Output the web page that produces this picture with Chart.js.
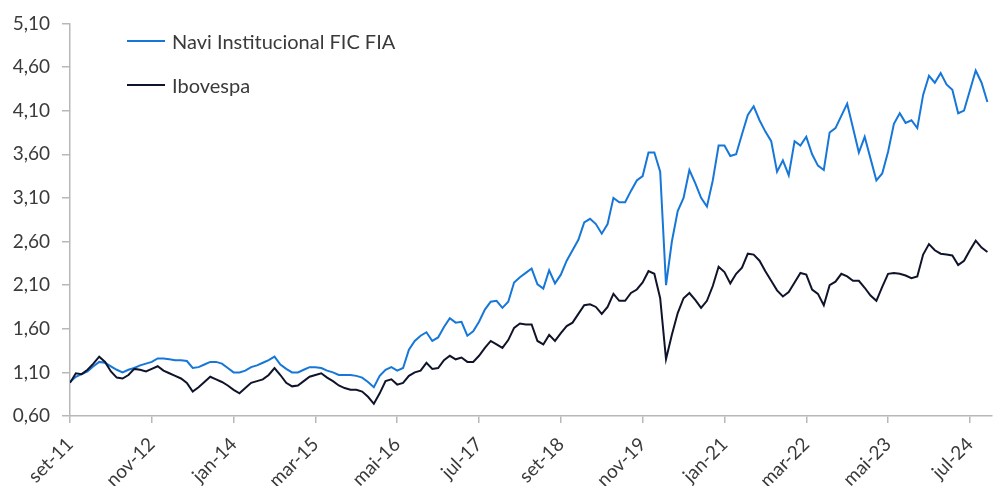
<!DOCTYPE html>
<html>
<head>
<meta charset="utf-8">
<script src="https://cdn.jsdelivr.net/npm/chart.js@4.4.1/dist/chart.umd.min.js"></script>
<style>
  html, body { margin: 0; padding: 0; background: #fff; }
  #wrap { position: relative; width: 996px; height: 486px; }
  .leg { position: absolute; left: 127px; display: flex; align-items: center;
         font-family: Lato, "Noto Sans", sans-serif; font-size: 20px; color: #3a3a3a; }
  .leg span.line { display: inline-block; width: 38px; height: 2px; margin-right: 7px; }
</style>
</head>
<body>
<div id="wrap">
  <canvas id="c" width="996" height="486"></canvas>
</div>
<script>
// rótulos do eixo x (a cada 14 meses, começando em set-11)
const tickLabels = ["set-11", "nov-12", "jan-14", "mar-15", "mai-16", "jul-17",
  "set-18", "nov-19", "jan-21", "mar-22", "mai-23", "jul-24"];
const monthStep = 14;

// valores mensais desde set-11
const navi = [
  0.99, 1.05, 1.08, 1.11, 1.17, 1.22, 1.21, 1.17, 1.13, 1.10,
  1.13, 1.15, 1.18, 1.20, 1.22, 1.26, 1.26, 1.25, 1.24, 1.24,
  1.23, 1.15, 1.16, 1.19, 1.22, 1.22, 1.20, 1.15, 1.10, 1.10,
  1.12, 1.16, 1.18, 1.21, 1.24, 1.28, 1.19, 1.14, 1.10, 1.10,
  1.13, 1.16, 1.16, 1.15, 1.12, 1.10, 1.07, 1.07, 1.07, 1.06,
  1.04, 0.99, 0.93, 1.06, 1.13, 1.16, 1.12, 1.15, 1.36, 1.46,
  1.52, 1.56, 1.46, 1.50, 1.62, 1.72, 1.67, 1.68, 1.52, 1.57,
  1.68, 1.82, 1.91, 1.92, 1.84, 1.91, 2.13, 2.19, 2.24, 2.29,
  2.11, 2.06, 2.27, 2.12, 2.22, 2.38, 2.50, 2.62, 2.82, 2.86,
  2.80, 2.69, 2.80, 3.10, 3.05, 3.05, 3.18, 3.30, 3.35, 3.62,
  3.62, 3.40, 2.10, 2.60, 2.95, 3.10, 3.42, 3.27, 3.10, 3.00,
  3.30, 3.70, 3.70, 3.58, 3.60, 3.83, 4.05, 4.15, 3.99, 3.86,
  3.75, 3.40, 3.53, 3.36, 3.75, 3.70, 3.80, 3.60, 3.47, 3.42,
  3.85, 3.90, 4.04, 4.18, 3.90, 3.62, 3.80, 3.55, 3.30, 3.38,
  3.63, 3.95, 4.07, 3.96, 3.99, 3.90, 4.28, 4.50, 4.42, 4.53,
  4.40, 4.34, 4.07, 4.10, 4.33, 4.56, 4.42, 4.20
];
const ibov = [
  0.98, 1.09, 1.08, 1.13, 1.20, 1.28, 1.22, 1.11, 1.04, 1.03,
  1.07, 1.14, 1.13, 1.11, 1.14, 1.17, 1.12, 1.09, 1.06, 1.03,
  0.98, 0.88, 0.93, 0.99, 1.05, 1.02, 0.99, 0.95, 0.90, 0.86,
  0.92, 0.98, 1.00, 1.02, 1.07, 1.15, 1.07, 0.98, 0.94, 0.95,
  1.00, 1.05, 1.07, 1.09, 1.04, 1.00, 0.95, 0.92, 0.90, 0.90,
  0.88, 0.82, 0.74, 0.86, 1.00, 1.02, 0.96, 0.98, 1.06, 1.10,
  1.12, 1.21, 1.14, 1.15, 1.24, 1.29, 1.25, 1.27, 1.22, 1.22,
  1.29, 1.38, 1.46, 1.42, 1.38, 1.47, 1.61, 1.66, 1.65, 1.65,
  1.46, 1.42, 1.53, 1.46, 1.55, 1.63, 1.67, 1.77, 1.87, 1.88,
  1.85, 1.77, 1.85, 2.00, 1.92, 1.92, 2.01, 2.05, 2.13, 2.26,
  2.23, 1.95, 1.25, 1.53, 1.78, 1.95, 2.01, 1.93, 1.84, 1.92,
  2.09, 2.31, 2.25, 2.12, 2.23, 2.30, 2.46, 2.45, 2.38, 2.26,
  2.15, 2.04, 1.97, 2.02, 2.13, 2.24, 2.22, 2.05, 2.00, 1.87,
  2.10, 2.14, 2.23, 2.20, 2.15, 2.15, 2.07, 1.98, 1.92, 2.08,
  2.23, 2.24, 2.23, 2.21, 2.18, 2.20, 2.45, 2.57, 2.50, 2.46,
  2.45, 2.44, 2.33, 2.38, 2.50, 2.61, 2.53, 2.48
];

const seriesNames = ["Navi Institucional FIC FIA", "Ibovespa"];
const seriesColors = ["#1677d9", "#10142a"];

const toPoints = arr => arr.map((v, i) => ({ x: i, y: v }));
const fmt = v => v.toFixed(2).replace(".", ",");
const axisColor = "#b8b8b8";
const textColor = "#3a3a3a";
const fontFamily = "Lato, 'Noto Sans', sans-serif";

// legenda em html
const wrap = document.getElementById("wrap");
[41, 85].forEach((top, i) => {
  const item = document.createElement("div");
  item.className = "leg";
  item.style.top = (top - 13) + "px";
  item.style.height = "26px";
  const ln = document.createElement("span");
  ln.className = "line";
  ln.style.background = seriesColors[i];
  item.appendChild(ln);
  const t = document.createElement("span");
  t.textContent = seriesNames[i];
  item.appendChild(t);
  wrap.appendChild(item);
});

new Chart(document.getElementById("c"), {
  type: "line",
  data: {
    datasets: [
      { label: seriesNames[0], data: toPoints(navi), borderColor: seriesColors[0], borderWidth: 2, order: 1 },
      { label: seriesNames[1], data: toPoints(ibov), borderColor: seriesColors[1], borderWidth: 2, order: 0 }
    ]
  },
  options: {
    responsive: false,
    animation: false,
    parsing: false,
    elements: { point: { radius: 0 }, line: { tension: 0 } },
    layout: { padding: { top: 20, right: 0, left: 0, bottom: 0 } },
    plugins: { legend: { display: false }, tooltip: { enabled: false } },
    scales: {
      x: {
        type: "linear",
        min: 0,
        max: 157.8,
        afterBuildTicks: s => { s.ticks = tickLabels.map((_, i) => ({ value: i * monthStep })); },
        afterFit: s => { s.height = 70; },
        border: { color: axisColor, width: 1.5 },
        grid: { drawOnChartArea: false, color: axisColor, tickLength: 7, lineWidth: 1.5 },
        ticks: {
          autoSkip: false,
          minRotation: 45,
          maxRotation: 45,
          padding: 10,
          color: textColor,
          font: { family: fontFamily, size: 19 },
          callback: v => tickLabels[Math.round(v / monthStep)]
        }
      },
      y: {
        min: 0.6,
        max: 5.1,
        afterFit: s => { s.width = 70; },
        border: { color: axisColor, width: 1.5 },
        grid: { drawOnChartArea: false, color: axisColor, tickLength: 8, lineWidth: 1.5 },
        ticks: {
          stepSize: 0.5,
          padding: 12,
          color: textColor,
          font: { family: fontFamily, size: 19 },
          callback: v => fmt(v)
        }
      }
    }
  }
});
</script>
</body>
</html>
